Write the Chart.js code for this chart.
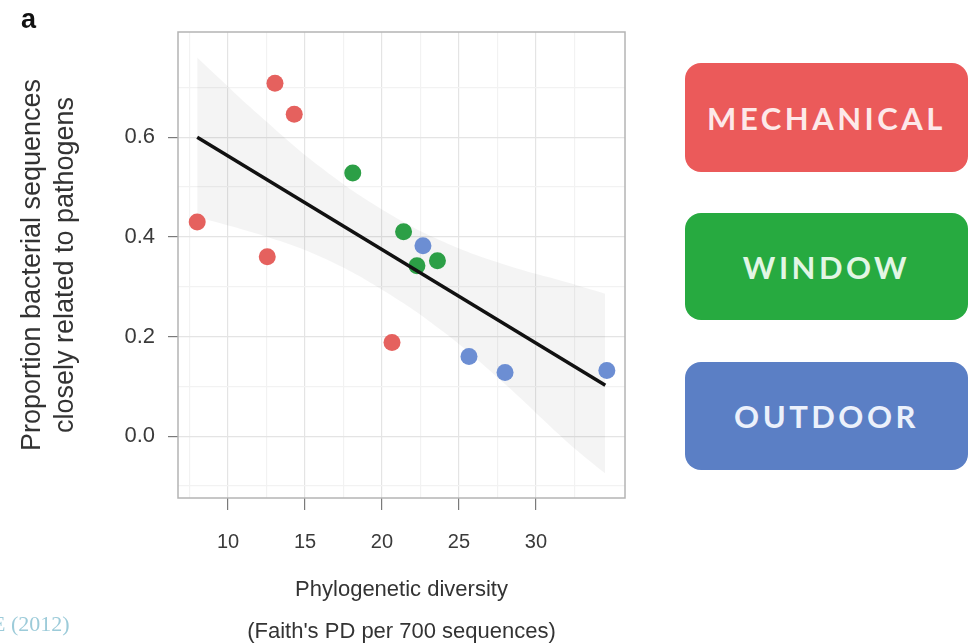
<!DOCTYPE html>
<html>
<head>
<meta charset="utf-8">
<script src="https://cdn.jsdelivr.net/npm/chart.js@4"></script>
<style>
  html, body { margin: 0; padding: 0; background: #fff; }
  #wrap { position: relative; width: 970px; height: 644px; overflow: hidden; }
  #chart { position: absolute; left: 0; top: 0; }
  .panel-tag { position: absolute; left: 21px; top: 4px; font: bold 27px "Liberation Sans", Arial, sans-serif; color: #111; }
  .cite { position: absolute; left: -8px; top: 611px; font: 22px "Liberation Serif", serif; color: #9ccbd9; }
  .key { position: absolute; left: 685px; width: 283px; border-radius: 16px;
         display: flex; align-items: center; justify-content: center;
         font: bold 31px Lato, "Noto Sans", sans-serif; letter-spacing: 3.5px; }
</style>
</head>
<body>
<div id="wrap">
  <canvas id="chart" width="970" height="644"></canvas>
  <div class="panel-tag">a</div>
  <div class="cite">E (2012)</div>
  <div class="key" style="top:63px;height:109px;background:#eb5a5a;color:#fde9e9;">MECHANICAL</div>
  <div class="key" style="top:213px;height:107px;background:#27aa40;color:#e2f6e4;">WINDOW</div>
  <div class="key" style="top:362px;height:108px;background:#5b7fc5;color:#ecf1fb;">OUTDOOR</div>
</div>
<script>
const ctx = document.getElementById("chart").getContext('2d');

//points, one group per ventilation type
const mechanicalX = [13.05, 14.3, 8.0, 12.55, 20.65];
const mechanicalY = [0.708, 0.646, 0.43, 0.36, 0.188];
const windowX = [18.1, 21.4, 22.27, 23.6];
const windowY = [0.528, 0.41, 0.342, 0.352];
const outdoorX = [22.66, 25.65, 27.99, 34.6];
const outdoorY = [0.382, 0.16, 0.128, 0.132];

//fitted line ends and the grey confidence band
const fitX = [8.0, 34.5];
const fitY = [0.6, 0.102];
const bandX = [8, 12, 16, 20, 24, 28, 32, 34.5];
const bandUpper = [0.76, 0.645, 0.54, 0.455, 0.39, 0.344, 0.309, 0.286];
const bandLower = [0.44, 0.405, 0.36, 0.294, 0.209, 0.104, -0.011, -0.075];

//axis breaks
const xMajor = [10, 15, 20, 25, 30];
const xMinor = [7.5, 12.5, 17.5, 22.5, 27.5, 32.5];
const yMajor = [0, 0.2, 0.4, 0.6];
const yMinor = [-0.1, 0.1, 0.3, 0.5, 0.7];

const toPoints = (xs, ys) => xs.map((x, i) => ({ x: x, y: ys[i] }));

const pointStyle = color => ({
    backgroundColor: color,
    borderWidth: 0,
    pointRadius: 8.5,
    pointHoverRadius: 8.5,
    order: 5
});

const scatterData = {
    datasets: [
        Object.assign({ label: 'Mechanical', data: toPoints(mechanicalX, mechanicalY) }, pointStyle('#e5615e')),
        Object.assign({ label: 'Window', data: toPoints(windowX, windowY) }, pointStyle('#2c9f46')),
        Object.assign({ label: 'Outdoor', data: toPoints(outdoorX, outdoorY) }, pointStyle('#6c8ed3')),
        {
            label: 'fit',
            data: toPoints(fitX, fitY),
            showLine: true,
            borderColor: '#111',
            borderWidth: 3.5,
            pointRadius: 0,
            order: 0
        },
        {
            label: 'band low',
            data: toPoints(bandX, bandLower),
            showLine: true,
            borderWidth: 0,
            borderColor: 'rgba(0,0,0,0)',
            pointRadius: 0,
            tension: 0.4,
            order: 10
        },
        {
            label: 'band high',
            data: toPoints(bandX, bandUpper),
            showLine: true,
            borderWidth: 0,
            borderColor: 'rgba(0,0,0,0)',
            backgroundColor: 'rgba(0,0,0,0.045)',
            fill: '-1',
            pointRadius: 0,
            tension: 0.4,
            order: 10
        }
    ]
};

//ggplot style panel border around the chart area
const panelBorder = {
    id: 'panelBorder',
    afterDraw(chart) {
        const a = chart.chartArea;
        const c = chart.ctx;
        c.save();
        c.strokeStyle = '#b4b4b4';
        c.lineWidth = 1.5;
        c.strokeRect(a.left, a.top, a.right - a.left, a.bottom - a.top);
        c.restore();
    }
};

const gridColor = major => tick => major.includes(tick.tick.value) ? '#e4e4e4' : '#f2f2f2';
const tickColor = major => tick => major.includes(tick.tick.value) ? '#7a7a7a' : 'rgba(0,0,0,0)';

const scatterOptions = {
    responsive: false,
    animation: false,
    layout: {
        padding: { left: 0, top: 32, right: 345, bottom: 0 }
    },
    scales: {
        x: {
            type: 'linear',
            min: 6.753,
            max: 35.78,
            afterBuildTicks: scale => {
                scale.ticks = xMajor.concat(xMinor).sort((a, b) => a - b).map(v => ({ value: v }));
            },
            afterFit: scale => { scale.height = 146; },
            grid: {
                color: gridColor(xMajor),
                tickColor: tickColor(xMajor),
                lineWidth: 1.2,
                tickLength: 12,
                tickWidth: 1.2
            },
            border: { display: false },
            ticks: {
                autoSkip: false,
                maxRotation: 0,
                padding: 20,
                color: '#3a3a3a',
                font: { family: '"Liberation Sans", Arial, sans-serif', size: 20 },
                callback: v => xMajor.includes(v) ? String(v) : ''
            },
            title: {
                display: true,
                text: ['Phylogenetic diversity', "(Faith's PD per 700 sequences)"],
                color: '#333',
                font: { family: '"Liberation Sans", Arial, sans-serif', size: 22, lineHeight: 1.91 },
                padding: { top: 0, bottom: -9 }
            }
        },
        y: {
            type: 'linear',
            min: -0.124,
            max: 0.811,
            afterBuildTicks: scale => {
                scale.ticks = yMajor.concat(yMinor).sort((a, b) => a - b).map(v => ({ value: v }));
            },
            afterFit: scale => { scale.width = 178; },
            grid: {
                color: gridColor(yMajor),
                tickColor: tickColor(yMajor),
                lineWidth: 1.2,
                tickLength: 10,
                tickWidth: 1.2
            },
            border: { display: false },
            ticks: {
                autoSkip: false,
                padding: 13,
                color: '#3a3a3a',
                font: { family: '"Liberation Sans", Arial, sans-serif', size: 22 },
                callback: v => yMajor.includes(v) ? v.toFixed(1) : ''
            },
            title: {
                display: true,
                text: ['Proportion bacterial sequences', 'closely related to pathogens'],
                color: '#333',
                font: { family: '"Liberation Sans", Arial, sans-serif', size: 27, lineHeight: 1.22 },
                padding: { top: 16.5, bottom: 0 }
            }
        }
    },
    plugins: {
        legend: { display: false },
        tooltip: { enabled: false }
    }
};

let scatterChart = new Chart(ctx, {
    type: 'scatter',
    data: scatterData,
    options: scatterOptions,
    plugins: [panelBorder]
});
</script>
</body>
</html>
